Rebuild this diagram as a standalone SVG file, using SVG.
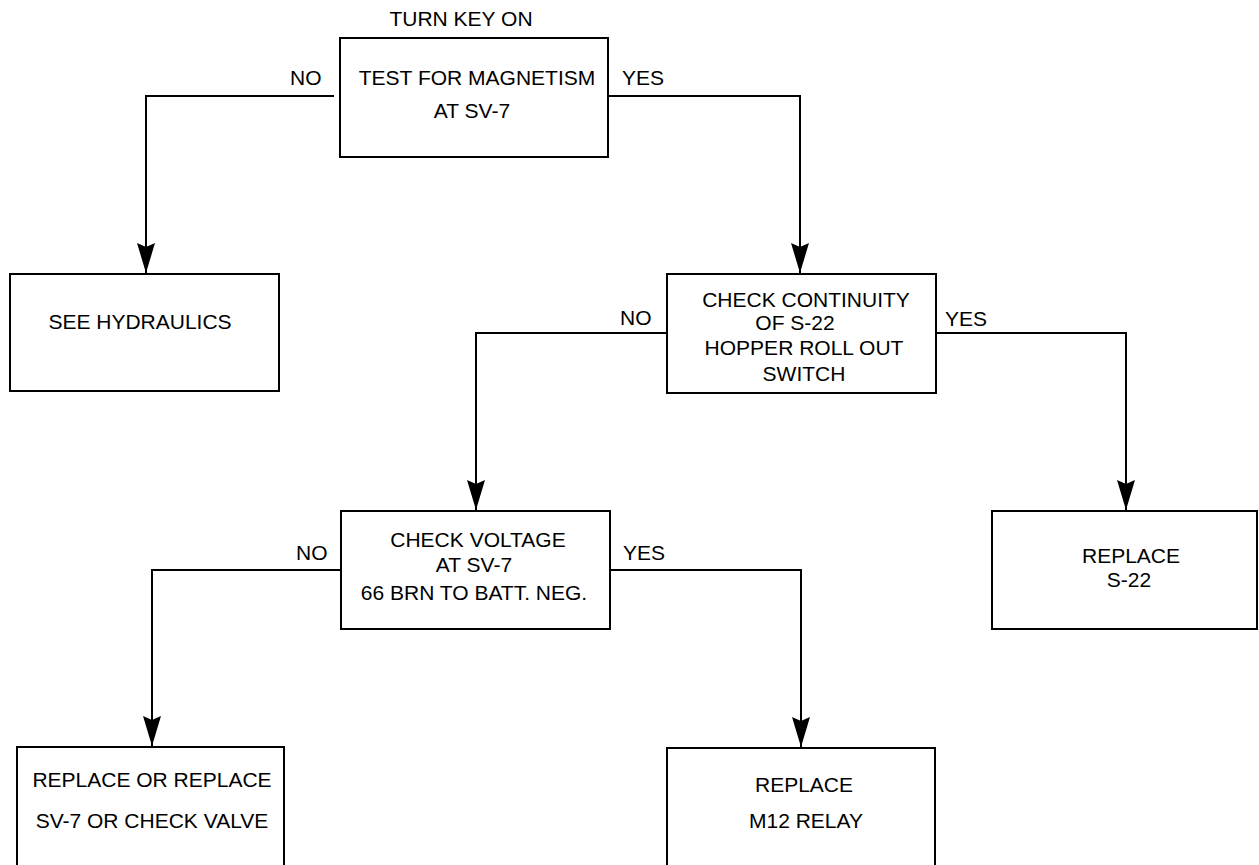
<svg xmlns="http://www.w3.org/2000/svg" width="1259" height="865" viewBox="0 0 1259 865">
<style>
.box{fill:#fff;stroke:#000;stroke-width:2}
.t{font-family:"Liberation Sans",Arial,sans-serif;font-size:21px;fill:#000;text-anchor:middle}
.l{font-family:"Liberation Sans",Arial,sans-serif;font-size:21px;fill:#000}
.c{fill:none;stroke:#000;stroke-width:2}
</style>
<defs>
<marker id="arr" markerUnits="userSpaceOnUse" markerWidth="34" markerHeight="22" viewBox="-32 -11 34 22" refX="0" refY="0" orient="auto">
<path d="M0,0 L-30,-9 L-26,0 L-30,9 Z" fill="#000"/>
</marker>
</defs>
<text class="t" x="461" y="26">TURN KEY ON</text>
<g id="connectors">
<path class="c" d="M334,96 H146 V273" marker-end="url(#arr)"/>
<path class="c" d="M608,96 H800 V273" marker-end="url(#arr)"/>
<path class="c" d="M667,333 H476 V510" marker-end="url(#arr)"/>
<path class="c" d="M936,333 H1126 V510" marker-end="url(#arr)"/>
<path class="c" d="M341,570 H152 V746" marker-end="url(#arr)"/>
<path class="c" d="M610,570 H801 V747" marker-end="url(#arr)"/>
<text class="l" x="290" y="85">NO</text>
<text class="l" x="622" y="85">YES</text>
<text class="l" x="620" y="325">NO</text>
<text class="l" x="945" y="326">YES</text>
<text class="l" x="296" y="560">NO</text>
<text class="l" x="623" y="560">YES</text>
</g>
<g id="n_test">
<rect class="box" x="340" y="38" width="268" height="119"/>
<text class="t" x="477" y="85">TEST FOR MAGNETISM</text>
<text class="t" x="472" y="118">AT SV-7</text>
</g>
<g id="n_hydraulics">
<rect class="box" x="10" y="274" width="269" height="117"/>
<text class="t" x="140" y="329">SEE HYDRAULICS</text>
</g>
<g id="n_continuity">
<rect class="box" x="667" y="274" width="269" height="119"/>
<text class="t" x="806" y="307">CHECK CONTINUITY</text>
<text class="t" x="795" y="330">OF S-22</text>
<text class="t" x="804" y="355">HOPPER ROLL OUT</text>
<text class="t" x="804" y="381">SWITCH</text>
</g>
<g id="n_voltage">
<rect class="box" x="341" y="511" width="269" height="118"/>
<text class="t" x="478" y="547">CHECK VOLTAGE</text>
<text class="t" x="474" y="572">AT SV-7</text>
<text class="t" x="474" y="600">66 BRN TO BATT. NEG.</text>
</g>
<g id="n_replace_s22">
<rect class="box" x="992" y="511" width="265" height="118"/>
<text class="t" x="1131" y="563">REPLACE</text>
<text class="t" x="1129" y="587">S-22</text>
</g>
<g id="n_replace_sv7">
<rect class="box" x="17" y="747" width="267" height="125"/>
<text class="t" x="152" y="787">REPLACE OR REPLACE</text>
<text class="t" x="152" y="828">SV-7 OR CHECK VALVE</text>
</g>
<g id="n_replace_m12">
<rect class="box" x="667" y="748" width="268" height="125"/>
<text class="t" x="804" y="792">REPLACE</text>
<text class="t" x="806" y="828">M12 RELAY</text>
</g>
</svg>
